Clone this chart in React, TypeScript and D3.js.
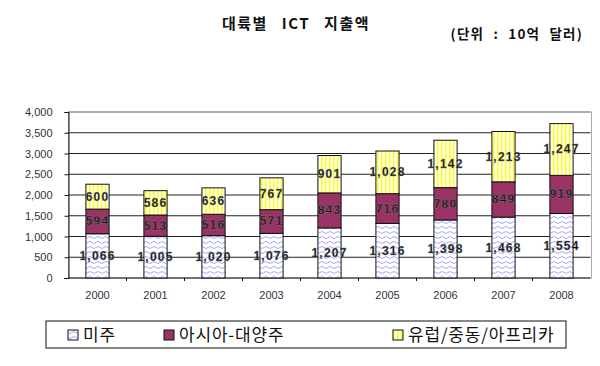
import { useEffect, useRef } from "react"
import * as d3 from "d3"

const years = ["2000", "2001", "2002", "2003", "2004", "2005", "2006", "2007", "2008"]
const americas = [1066, 1005, 1020, 1076, 1207, 1316, 1398, 1468, 1554]
const asiaPacific = [594, 513, 516, 571, 843, 716, 780, 849, 919]
const emea = [600, 586, 636, 767, 901, 1028, 1142, 1213, 1247]
const seriesNames = ["미주", "아시아-대양주", "유럽/중동/아프리카"]
const yTicks = [0, 500, 1000, 1500, 2000, 2500, 3000, 3500, 4000]

const KR = "'Noto Sans CJK KR', 'Noto Sans', sans-serif"

export default function App() {
  const svgRef = useRef<SVGSVGElement>(null)

  useEffect(() => {
    if (!svgRef.current) return
    const svg = d3.select(svgRef.current)
    svg.selectAll("*").remove()

    const left = 68.5
    const right = 590.5
    const top = 112
    const bottom = 278

    // patterns
    const defs = svg.append("defs")
    const wave = defs
      .append("pattern")
      .attr("id", "wave")
      .attr("patternUnits", "userSpaceOnUse")
      .attr("width", 8)
      .attr("height", 5)
    wave.append("rect").attr("width", 8).attr("height", 5).attr("fill", "#fff")
    wave
      .append("path")
      .attr("d", "M0,2.5 Q2,0.5 4,2.5 T8,2.5")
      .attr("fill", "none")
      .attr("stroke", "#9a9aff")
      .attr("stroke-width", 0.9)

    const stripe = defs
      .append("pattern")
      .attr("id", "stripe")
      .attr("patternUnits", "userSpaceOnUse")
      .attr("width", 4)
      .attr("height", 4)
    stripe.append("rect").attr("width", 4).attr("height", 4).attr("fill", "#fff")
    stripe.append("rect").attr("x", 1).attr("width", 1.5).attr("height", 4).attr("fill", "#ffff00")

    const fills = ["url(#wave)", "#993366", "url(#stripe)"]

    const x = d3.scaleBand<string>().domain(years).range([left, right]).paddingInner(0.6).paddingOuter(0.3)
    const y = d3.scaleLinear().domain([0, 4000]).range([bottom, top])

    // title
    svg
      .append("text")
      .attr("x", 296)
      .attr("y", 29)
      .attr("text-anchor", "middle")
      .attr("font-family", KR)
      .attr("font-weight", "bold")
      .attr("font-size", 15)
      .attr("letter-spacing", 1.5)
      .attr("word-spacing", 9)
      .attr("fill", "#111")
      .text("대륙별 ICT 지출액")
    svg
      .append("text")
      .attr("x", 583)
      .attr("y", 39)
      .attr("text-anchor", "end")
      .attr("font-family", KR)
      .attr("font-weight", "bold")
      .attr("font-size", 13.5)
      .attr("letter-spacing", 1.2)
      .attr("word-spacing", 5)
      .attr("fill", "#111")
      .text("(단위 : 10억 달러)")

    // plot border
    svg
      .append("rect")
      .attr("x", left)
      .attr("y", top)
      .attr("width", right - left + 1)
      .attr("height", bottom - top)
      .attr("fill", "none")
      .attr("stroke", "#aaa")

    // gridlines
    svg
      .append("g")
      .selectAll("line")
      .data(yTicks.slice(1))
      .enter()
      .append("line")
      .attr("x1", left)
      .attr("x2", right)
      .attr("y1", (d) => y(d))
      .attr("y2", (d) => y(d))
      .attr("stroke", (d) => (d === 4000 ? "#888" : "#222"))
      .attr("stroke-width", 1)

    // y axis
    const yAxis = svg
      .append("g")
      .attr("transform", `translate(${left},0)`)
      .call(d3.axisLeft(y).tickValues(yTicks).tickSize(4).tickFormat((d) => d3.format(",")(d as number)))
    yAxis.select(".domain").attr("stroke", "#111")
    yAxis.selectAll(".tick line").attr("stroke", "#111")
    yAxis
      .selectAll(".tick text")
      .attr("x", -16)
      .attr("font-family", "Arial, 'Liberation Sans', sans-serif")
      .attr("font-size", 11)
      .attr("fill", "#333")

    // x axis
    const xAxis = svg
      .append("g")
      .attr("transform", `translate(0,${bottom})`)
      .call(d3.axisBottom(x).tickSize(0).tickPadding(13))
    xAxis.select(".domain").attr("stroke", "#111").attr("d", `M${left},0H${right}`)
    xAxis
      .selectAll(".tick text")
      .attr("font-family", "Arial, 'Liberation Sans', sans-serif")
      .attr("font-size", 11)
      .attr("fill", "#334")
    svg
      .append("g")
      .selectAll("line")
      .data(years.slice(1))
      .enter()
      .append("line")
      .attr("x1", (d) => (x(d) || 0) - (x.step() - x.bandwidth()) / 2)
      .attr("x2", (d) => (x(d) || 0) - (x.step() - x.bandwidth()) / 2)
      .attr("y1", bottom)
      .attr("y2", bottom + 3)
      .attr("stroke", "#111")

    // stacked bars
    const rows = years.map((yr, i) => ({ year: yr, a: americas[i], b: asiaPacific[i], c: emea[i] }))
    const stack = d3.stack<any>().keys(["a", "b", "c"])(rows)

    stack.forEach((layer, li) => {
      const g = svg.append("g")
      g.selectAll("rect")
        .data(layer)
        .enter()
        .append("rect")
        .attr("x", (d) => x(d.data.year) || 0)
        .attr("y", (d) => y(d[1]))
        .attr("width", x.bandwidth())
        .attr("height", (d) => y(d[0]) - y(d[1]))
        .attr("fill", fills[li])
        .attr("stroke", "#111")
        .attr("stroke-width", 1)
    })

    stack.forEach((layer) => {
      const g = svg.append("g")
      g.selectAll("text")
        .data(layer)
        .enter()
        .append("text")
        .attr("x", (d) => (x(d.data.year) || 0) + x.bandwidth() / 2)
        .attr("y", (d) => y((d[0] + d[1]) / 2) + 4)
        .attr("text-anchor", "middle")
        .attr("font-family", "Arial, 'Liberation Sans', sans-serif")
        .attr("font-weight", "bold")
        .attr("font-size", 12)
        .attr("letter-spacing", 1.2)
        .attr("fill", "#111")
        .attr("stroke", "#888")
        .attr("stroke-width", 0.3)
        .text((d) => d3.format(",")(d[1] - d[0]))
    })

    // legend
    const lg = svg.append("g")
    lg.append("rect")
      .attr("x", 46)
      .attr("y", 321)
      .attr("width", 520)
      .attr("height", 27)
      .attr("fill", "#fff")
      .attr("stroke", "#111")
    const legendX = [68, 164, 393]
    seriesNames.forEach((name, i) => {
      lg.append("rect")
        .attr("x", legendX[i])
        .attr("y", 330)
        .attr("width", 10)
        .attr("height", 10)
        .attr("fill", fills[i])
        .attr("stroke", "#111")
      lg.append("text")
        .attr("x", legendX[i] + 15)
        .attr("y", 341)
        .attr("font-family", KR)
        .attr("font-size", 17)
        .attr("letter-spacing", 0.8)
        .attr("fill", "#111")
        .text(name)
    })
  }, [])

  return (
    <svg
      ref={svgRef}
      width={600}
      height={366}
      style={{ position: "absolute", left: 0, top: 0, background: "#fff" }}
    />
  )
}
